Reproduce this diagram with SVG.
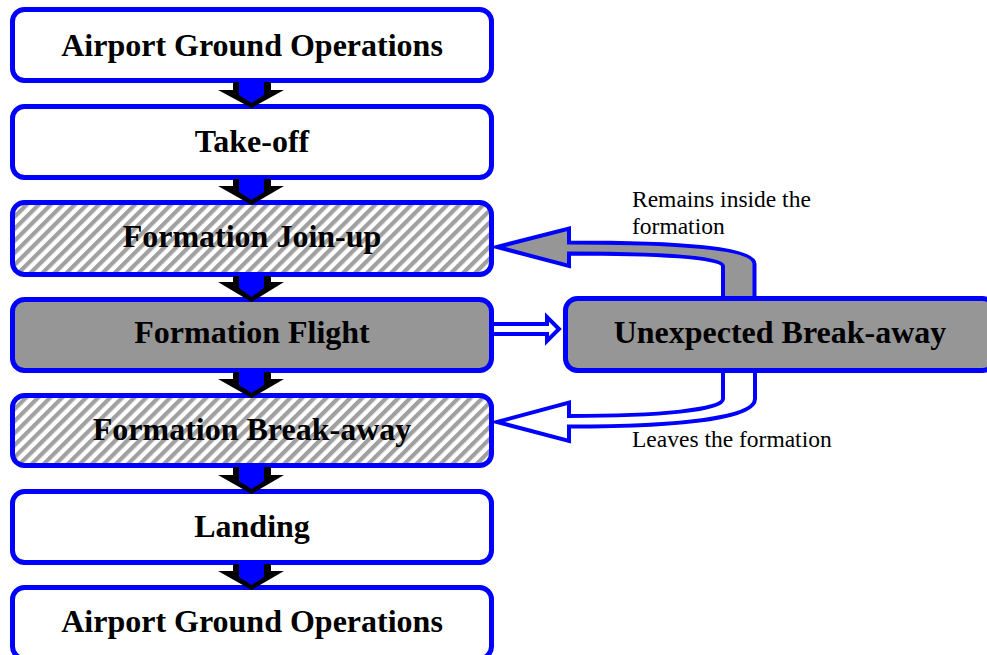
<svg xmlns="http://www.w3.org/2000/svg" width="987" height="655" viewBox="0 0 987 655">
<defs>
<pattern id="hatch" patternUnits="userSpaceOnUse" width="8.5" height="8.5" patternTransform="rotate(45)">
<rect x="0" y="0" width="8.5" height="8.5" fill="#ffffff"/>
<rect x="0" y="0" width="4.2" height="8.5" fill="#a0a0a0"/>
</pattern>
<style>
.box{stroke:#0000ff;stroke-width:5;}
.white{fill:#ffffff;}
.hatch{fill:url(#hatch);}
.gray{fill:#969696;}
.lbl{font-family:"Liberation Serif","Times New Roman",serif;font-weight:bold;font-size:32px;fill:#000;text-anchor:middle;}
.note{font-family:"Liberation Serif","Times New Roman",serif;font-size:23.5px;fill:#000;}
.down-out{fill:#000000;}
.down-in{fill:#0000ff;}
.conn{stroke:#0000ff;stroke-width:4;stroke-linejoin:miter;stroke-miterlimit:6;}
</style>
</defs>
<rect width="987" height="655" fill="#ffffff"/>

<g id="nodes">
<g id="n1"><rect class="box white" x="12.5" y="9.5" width="479" height="71" rx="12"/><text class="lbl" x="252" y="56">Airport Ground Operations</text></g>
<g id="n2"><rect class="box white" x="12.5" y="106.5" width="479" height="71" rx="12"/><text class="lbl" x="252" y="152">Take-off</text></g>
<g id="n3"><rect class="box hatch" x="12.5" y="202.5" width="479" height="72" rx="12"/><text class="lbl" x="252" y="247">Formation Join-up</text></g>
<g id="n4"><rect class="box gray" x="12.5" y="299.5" width="479" height="71" rx="12"/><text class="lbl" x="252" y="343">Formation Flight</text></g>
<g id="n5"><rect class="box hatch" x="12.5" y="395.5" width="479" height="70" rx="12"/><text class="lbl" x="252" y="440">Formation Break-away</text></g>
<g id="n6"><rect class="box white" x="12.5" y="491.5" width="479" height="71" rx="12"/><text class="lbl" x="252" y="537">Landing</text></g>
<g id="n7"><rect class="box white" x="12.5" y="587.5" width="479" height="71" rx="12"/><text class="lbl" x="252" y="632">Airport Ground Operations</text></g>
<g id="n8"><rect class="box gray" x="565.5" y="298.5" width="429" height="72" rx="12"/><text class="lbl" x="780" y="343">Unexpected Break-away</text></g>
</g>

<g id="connectors">
<g id="e1"><polygon class="down-out" points="233,82 271,82 271,90 284,90 251.5,108 218,90 233,90"/><polygon class="down-in" points="239,82 264,82 264,95 251.5,103 239,95"/></g>
<g id="e2"><polygon class="down-out" points="233,179 271,179 271,186 284,186 251.5,205 218,186 233,186"/><polygon class="down-in" points="239,179 264,179 264,192 251.5,200 239,192"/></g>
<g id="e3"><polygon class="down-out" points="233,276 271,276 271,282 284,282 251.5,302 218,282 233,282"/><polygon class="down-in" points="239,276 264,276 264,288 251.5,297 239,288"/></g>
<g id="e4"><polygon class="down-out" points="233,372 271,372 271,379 284,379 251.5,398 218,379 233,379"/><polygon class="down-in" points="239,372 264,372 264,385 251.5,393 239,385"/></g>
<g id="e5"><polygon class="down-out" points="233,467 271,467 271,475 284,475 251.5,494 218,475 233,475"/><polygon class="down-in" points="239,467 264,467 264,481 251.5,489 239,481"/></g>
<g id="e6"><polygon class="down-out" points="233,564 271,564 271,571 284,571 251.5,590 218,571 233,571"/><polygon class="down-in" points="239,564 264,564 264,577 251.5,585 239,577"/></g>
<g id="e7"><path class="conn" fill="#ffffff" d="M494,324 L547,324 L547,317 L559,329 L547,341 L547,334 L494,334"/></g>
<g id="e8"><path class="conn" fill="#969696" d="M723,298 L723,266 C723,257 655,253.5 569,253.5 L569,266 L497,247 L569,228.5 L569,242.5 C680,242.5 754.5,248 754.5,264 L754.5,298 Z"/></g>
<g id="e9"><path class="conn" fill="#ffffff" d="M723,371 L723,399 C723,410 660,416 569,416 L569,402.5 L497,422 L569,441 L569,426.5 C680,426.5 755,418 755,399 L755,371 Z"/></g>
</g>

<g id="labels">
<text class="note" x="632" y="207">Remains inside the</text>
<text class="note" x="632" y="233.5">formation</text>
<text class="note" x="632" y="447">Leaves the formation</text>
</g>
</svg>
